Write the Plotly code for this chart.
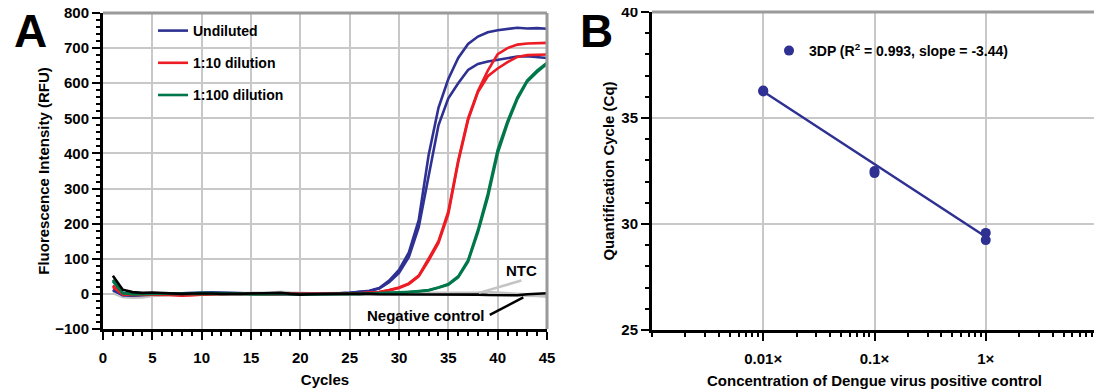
import plotly.graph_objects as go

# ---------------- Panel A data (qPCR amplification curves) ----------------
cycles = list(range(1, 46))
undiluted_1 = [12,-4,-5,-3,-1,0,1,2,3,5, 4,3,2,1,0,0,-1,-1,0,0, 0,1,1,2,3,5,9,17,38,68,
               118,210,395,530,612,672,712,733,745,751, 755,758,756,757,755]
undiluted_2 = [10,-3,-4,-2,-1,0,1,2,3,4, 4,3,2,1,1,0,0,-1,0,0, 0,1,1,2,3,5,8,15,33,60,
               105,190,330,480,557,600,638,655,662,667, 671,676,677,675,672]
dil10_1 = [24,-2,-3,-2,-1,-1,-3,-5,-4,-2, 0,1,1,0,-1,-2,-1,0,0,-1, -1,0,0,1,1,2,3,5,11,18,
           30,52,100,150,235,380,500,578,636,683, 700,710,713,715,715]
dil10_2 = [20,-1,-2,-2,-1,-2,-3,-4,-3,-1, 0,1,0,0,-1,-1,-1,0,0,-1, 0,0,0,1,1,2,3,5,10,17,
           28,50,95,145,228,375,495,575,620,642, 660,675,680,682,682]
dil100_1 = [40,3,-1,-1,0,1,0,-1,1,3, 2,1,0,-1,-1,-1,0,1,-1,-2, -2,-1,0,0,0,0,1,1,2,3,
            5,7,10,17,26,47,92,175,275,400, 485,555,605,632,655]
dil100_2 = [36,2,-1,0,0,1,0,0,1,2, 2,1,0,0,-1,-1,0,0,-1,-2, -1,-1,0,0,0,0,1,1,2,3,
            5,7,11,18,28,50,96,182,285,410, 492,560,608,636,658]
negative_ctrl = [52,12,5,3,4,2,1,0,1,2, 1,0,-1,0,1,1,2,3,0,-2, -1,0,1,0,0,1,0,-1,-1,-2,
                 -2,-1,-1,0,-1,-1,-2,-2,-3,-4, -5,-4,-1,1,2]
ntc = [4,-7,-9,-8,-4,-2,-1,0,0,1, 1,0,0,-1,0,1,2,4,2,0, 0,0,1,0,1,0,0,0,0,0,
       0,0,0,0,0,1,1,2,3,1, -1,-2,-3,-4,-6]

# ---------------- Panel B data (standard curve) ----------------
concentration = [0.01, 0.01, 0.1, 0.1, 1, 1]
cq_values = [36.30, 36.25, 32.40, 32.50, 29.58, 29.24]
fit_conc = [0.01, 1]
fit_cq = [36.25, 29.40]
conc_tickvals = [0.01, 0.1, 1]
conc_ticktext = ["0.01\u00d7", "0.1\u00d7", "1\u00d7"]

BLUE = "#2e3192"
RED = "#ed1c24"
GREEN = "#00774a"
GRID = "#c8c8c8"
FONT = dict(family="Liberation Sans, Arial, sans-serif", size=15, color="black", weight="bold")

fig = go.Figure()

fig.add_trace(go.Scatter(x=cycles, y=ntc, mode="lines", line=dict(color="#c4c4c4", width=4),
                         showlegend=False, xaxis="x", yaxis="y"))

series = [
    (undiluted_1, BLUE, "Undiluted", True, "g1"),
    (undiluted_2, BLUE, "Undiluted", False, "g1"),
    (dil10_1, RED, "1:10 dilution", True, "g2"),
    (dil10_2, RED, "1:10 dilution", False, "g2"),
    (dil100_1, GREEN, "1:100 dilution", True, "g3"),
    (dil100_2, GREEN, "1:100 dilution", False, "g3"),
]
for vals, col, name, show, grp in series:
    fig.add_trace(go.Scatter(x=cycles, y=vals, mode="lines", line=dict(color=col, width=2.6),
                             name=name, showlegend=show, legendgroup=grp, legend="legend",
                             xaxis="x", yaxis="y"))

fig.add_trace(go.Scatter(x=cycles, y=negative_ctrl, mode="lines", line=dict(color="black", width=2.6),
                         showlegend=False, xaxis="x", yaxis="y"))

fig.add_trace(go.Scatter(x=fit_conc, y=fit_cq, mode="lines", line=dict(color=BLUE, width=2.5),
                         showlegend=False, xaxis="x2", yaxis="y2"))
fig.add_trace(go.Scatter(x=concentration, y=cq_values, mode="markers",
                         marker=dict(color=BLUE, size=10),
                         name="3DP (R<sup>2</sup> = 0.993, slope = -3.44)",
                         showlegend=True, legend="legend2", xaxis="x2", yaxis="y2"))

# the page body has an 8px margin, so positions are offset by it
W, H, OFF = 1102, 390, 8
def px_x(p): return (p - OFF) / W
def px_y(p): return 1 - (p - OFF) / H

axis_common = dict(showgrid=True, gridcolor=GRID, gridwidth=1.5, zeroline=False,
                   showline=True, linecolor="black", linewidth=3, automargin=False,
                   ticklabeloverflow="allow",
                   ticks="outside", ticklen=8, tickwidth=2, tickcolor="black",
                   tickfont=FONT, title_font=FONT)

minor_tick = dict(ticks="outside", ticklen=4, tickwidth=1.5, tickcolor="black", showgrid=False)

minor_log = []
for dec in [0.001, 0.01, 0.1, 1]:
    for m in range(1, 10):
        if not (m == 1 and dec > 0.001):
            minor_log.append(dec * m)
minor_log.append(10)

fig.update_layout(
    width=W, height=H, margin=dict(l=0, r=0, t=0, b=0, autoexpand=False),
    paper_bgcolor="white", plot_bgcolor="white", font=FONT,
    xaxis=dict(axis_common, domain=[px_x(103), px_x(547)], range=[0, 45], dtick=5, tick0=0,
               minor=dict(minor_tick, dtick=1), ticklabelstandoff=5,
               title=dict(text="Cycles", standoff=10), anchor="y"),
    yaxis=dict(axis_common, domain=[px_y(329), px_y(13)], range=[-100, 800], dtick=100, tick0=0,
               minor=dict(minor_tick, dtick=20),
               title=dict(text="Fluorescence Intensity (RFU)", standoff=2), anchor="x"),
    xaxis2=dict(axis_common, type="log", domain=[px_x(652), px_x(1097)], range=[-3, 1],
                tickmode="array", tickvals=conc_tickvals, ticktext=conc_ticktext,
                minor=dict(minor_tick, tickmode="array", tickvals=minor_log), ticklabelstandoff=5,
                title=dict(text="Concentration of Dengue virus positive control", standoff=10),
                anchor="y2"),
    yaxis2=dict(axis_common, domain=[px_y(330), px_y(12)], range=[25, 40], dtick=5, tick0=25,
                minor=dict(minor_tick, dtick=1),
                title=dict(text="Quantification Cycle (Cq)", standoff=4), anchor="x2"),
    legend=dict(x=px_x(153), y=px_y(15), xanchor="left", yanchor="top", bgcolor="rgba(0,0,0,0)",
                font=dict(FONT, size=14), tracegroupgap=11, itemwidth=30),
    legend2=dict(x=px_x(769), y=px_y(35), xanchor="left", yanchor="top", bgcolor="rgba(0,0,0,0)",
                 font=dict(FONT, size=14), itemwidth=30),
)

for xd, yd in [("x domain", "y domain"), ("x2 domain", "y2 domain")]:
    fig.add_shape(type="line", xref=xd, yref=yd, x0=0, x1=1, y0=1, y1=1,
                  line=dict(color="#9a9a9a", width=3))
    fig.add_shape(type="line", xref=xd, yref=yd, x0=1, x1=1, y0=0, y1=1,
                  line=dict(color="#9a9a9a", width=3))

fig.add_shape(type="line", xref="x", yref="y", x0=38.1, y0=3, x1=42.4, y1=38,
              line=dict(color="#c4c4c4", width=2.5))
fig.add_shape(type="line", xref="x", yref="y", x0=39.2, y0=-60, x1=42.6, y1=-10,
              line=dict(color="black", width=2.5))
fig.add_annotation(x=42.4, y=68, xref="x", yref="y", text="NTC", showarrow=False,
                   xanchor="center", yanchor="middle", font=dict(FONT, size=15))
fig.add_annotation(x=38.9, y=-62, xref="x", yref="y", text="Negative control", showarrow=False,
                   xanchor="right", yanchor="middle", font=dict(FONT, size=15))

fig.add_annotation(x=px_x(30), y=px_y(31), xref="paper", yref="paper", text="A", showarrow=False,
                   xanchor="center", yanchor="middle", font=dict(FONT, size=46))
fig.add_annotation(x=px_x(596), y=px_y(31), xref="paper", yref="paper", text="B", showarrow=False,
                   xanchor="center", yanchor="middle", font=dict(FONT, size=46))

fig.write_html("out.html")
